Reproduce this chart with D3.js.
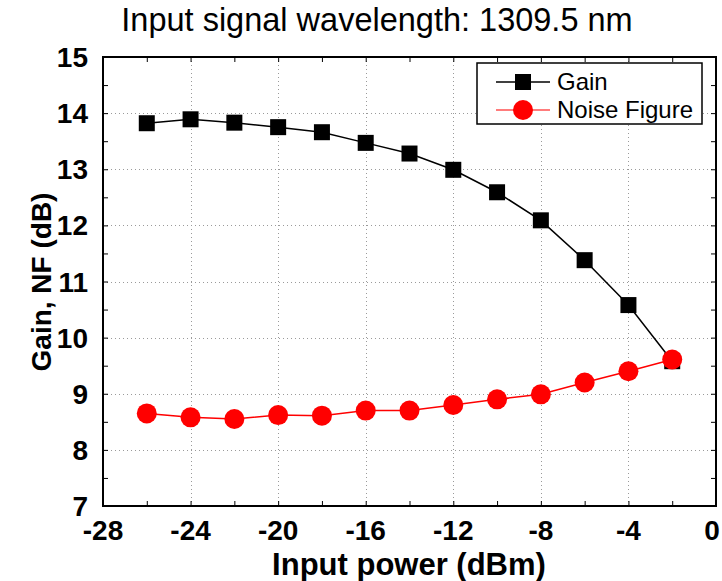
<!DOCTYPE html>
<html>
<head>
<meta charset="utf-8">
<script src="https://cdn.jsdelivr.net/npm/d3@7"></script>
<style>
  html, body { margin: 0; padding: 0; background: #fff; }
  svg { display: block; font-family: "Liberation Sans", Arial, sans-serif; }
</style>
</head>
<body>
<svg id="chart" width="722" height="581"></svg>
<script>
const inputPower = [-26, -24, -22, -20, -18, -16, -14, -12, -10, -8, -6, -4, -2];
const gainValues = [13.82, 13.89, 13.83, 13.75, 13.66, 13.47, 13.28, 12.99, 12.59, 12.09, 11.38, 10.58, 9.58];
const nfValues = [8.65, 8.58, 8.55, 8.62, 8.61, 8.70, 8.70, 8.80, 8.90, 8.99, 9.20, 9.40, 9.61];
const xTicks = [-28, -24, -20, -16, -12, -8, -4, 0];
const yTicks = [7, 8, 9, 10, 11, 12, 13, 14, 15];
const seriesNames = ["Gain", "Noise Figure"];
const titleText = "Input signal wavelength: 1309.5 nm";
const xLabel = "Input power (dBm)";
const yLabel = "Gain, NF (dB)";

const svg = d3.select("#chart");
const L = 103, R = 716, T = 57, B = 506;
const x = d3.scaleLinear().domain([-28, 0]).range([L, R]);
const y = d3.scaleLinear().domain([7, 15]).range([B, T]);

// grid
const grid = svg.append("g").attr("shape-rendering", "crispEdges");
grid.selectAll(".gx").data(xTicks.slice(1, -1)).join("line")
  .attr("x1", d => Math.round(x(d)) + 0.5).attr("x2", d => Math.round(x(d)) + 0.5).attr("y1", T).attr("y2", B)
  .attr("stroke", "#9a9a9a").attr("stroke-width", 1).attr("stroke-dasharray", "1,3");
grid.selectAll(".gy").data(yTicks.slice(1, -1)).join("line")
  .attr("x1", L).attr("x2", R).attr("y1", d => Math.round(y(d)) + 0.5).attr("y2", d => Math.round(y(d)) + 0.5)
  .attr("stroke", "#9a9a9a").attr("stroke-width", 1).attr("stroke-dasharray", "1,3");

// axes with inward ticks
const xMinor = d3.range(-28, 0.001, 2);
const yMinor = d3.range(7, 15.001, 0.5);
const axB = svg.append("g").attr("transform", `translate(0,${B})`)
  .call(d3.axisBottom(x).tickValues(xMinor).tickSize(-5).tickFormat(""));
const axT = svg.append("g").attr("transform", `translate(0,${T})`)
  .call(d3.axisTop(x).tickValues(xMinor).tickSize(-5).tickFormat(""));
const axL = svg.append("g").attr("transform", `translate(${L},0)`)
  .call(d3.axisLeft(y).tickValues(yMinor).tickSize(-5).tickFormat(""));
const axR = svg.append("g").attr("transform", `translate(${R},0)`)
  .call(d3.axisRight(y).tickValues(yMinor).tickSize(-5).tickFormat(""));
[axB, axT, axL, axR].forEach(a => {
  a.select(".domain").remove();
  a.selectAll(".tick line").attr("stroke", "#000").attr("stroke-width", 1);
});

// frame
svg.append("rect").attr("x", L).attr("y", T).attr("width", R - L).attr("height", B - T)
  .attr("fill", "none").attr("stroke", "#000").attr("stroke-width", 2);

// tick labels
svg.append("g").selectAll("text").data(xTicks).join("text")
  .attr("x", d => d === 0 ? x(d) - 4 : x(d)).attr("y", 540).attr("text-anchor", "middle")
  .attr("font-size", 28).attr("font-weight", "bold").text(d => d);
svg.append("g").selectAll("text").data(yTicks).join("text")
  .attr("x", 88).attr("y", d => y(d) + 10).attr("text-anchor", "end")
  .attr("font-size", 28).attr("font-weight", "bold").text(d => d);

// axis titles
svg.append("text").attr("x", 409).attr("y", 575).attr("text-anchor", "middle")
  .attr("font-size", 31).attr("font-weight", "bold").text(xLabel);
svg.append("text").attr("transform", "translate(51,282) rotate(-90)").attr("text-anchor", "middle")
  .attr("font-size", 28).attr("font-weight", "bold").text(yLabel);
svg.append("text").attr("x", 377).attr("y", 31).attr("text-anchor", "middle")
  .attr("font-size", 32.5).text(titleText);

// series
const gainData = inputPower.map((p, i) => ({p, v: gainValues[i]}));
const nfData = inputPower.map((p, i) => ({p, v: nfValues[i]}));
const line = d3.line().x(d => x(d.p)).y(d => y(d.v));

svg.append("path").datum(gainData).attr("d", line).attr("fill", "none")
  .attr("stroke", "#000").attr("stroke-width", 1.5);
svg.append("g").selectAll("rect").data(gainData).join("rect")
  .attr("x", d => x(d.p) - 8).attr("y", d => y(d.v) - 8).attr("width", 16).attr("height", 16)
  .attr("fill", "#000");

svg.append("path").datum(nfData).attr("d", line).attr("fill", "none")
  .attr("stroke", "#ff0000").attr("stroke-width", 1.5);
svg.append("g").selectAll("circle").data(nfData).join("circle")
  .attr("cx", d => x(d.p)).attr("cy", d => y(d.v)).attr("r", 10)
  .attr("fill", "#ff0000");

// legend
const lg = svg.append("g");
lg.append("rect").attr("x", 477).attr("y", 63).attr("width", 225).attr("height", 61)
  .attr("fill", "#fff").attr("stroke", "#000").attr("stroke-width", 1.5);
const rows = [{name: seriesNames[0], cy: 82, shape: "sq"},
              {name: seriesNames[1], cy: 110, shape: "ci"}];
rows.forEach(r => {
  lg.append("line").attr("x1", 496).attr("x2", 550).attr("y1", r.cy).attr("y2", r.cy)
    .attr("stroke", r.shape === "sq" ? "#000" : "#ff5050").attr("stroke-width", 1.5);
  if (r.shape === "sq") {
    lg.append("rect").attr("x", 515).attr("y", r.cy - 8).attr("width", 16).attr("height", 16).attr("fill", "#000");
  } else {
    lg.append("circle").attr("cx", 523).attr("cy", r.cy).attr("r", 10).attr("fill", "#ff0000");
  }
  lg.append("text").attr("x", 557).attr("y", r.cy + 8).attr("font-size", 24).text(r.name);
});
</script>
</body>
</html>
